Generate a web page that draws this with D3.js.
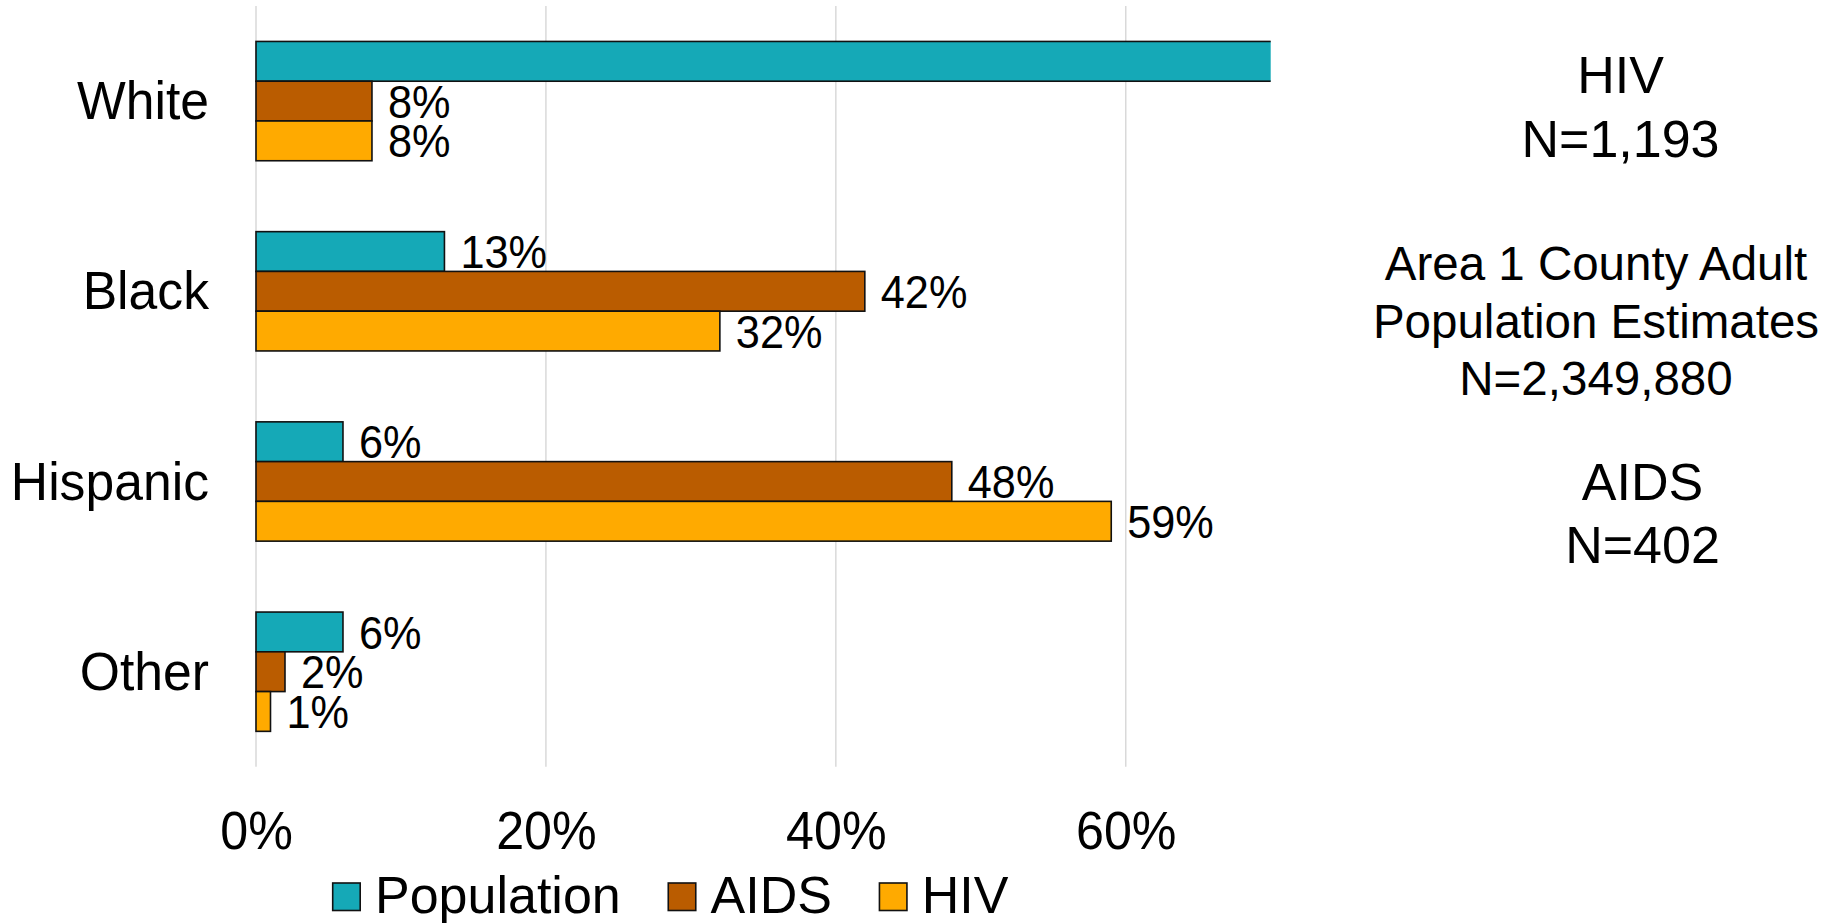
<!DOCTYPE html>
<html>
<head>
<meta charset="utf-8">
<script src="https://cdn.jsdelivr.net/npm/d3@7"></script>
<style>
  html, body { margin: 0; padding: 0; background: #fff; }
  svg { display: block; font-family: "Liberation Sans", Arial, sans-serif; }
</style>
</head>
<body>
<svg id="chart" width="1825" height="923"></svg>
<script>
// ---- data ----
const categories = ["White", "Black", "Hispanic", "Other"];
const seriesNames = ["Population", "AIDS", "HIV"];
const population = [75, 13, 6, 6];
const aids = [8, 42, 48, 2];
const hiv = [8, 32, 59, 1];
const tickValues = [0, 20, 40, 60];
const seriesColors = ["#15A9B7", "#BA5C00", "#FFAA00"];
const noteHIV = ["HIV", "N=1,193"];
const notePop = ["Area 1 County Adult", "Population Estimates", "N=2,349,880"];
const noteAIDS = ["AIDS", "N=402"];

const seriesValues = [population, aids, hiv];
const rows = categories.map((c, i) => ({
  cat: c,
  vals: seriesNames.map((s, j) => ({ series: s, value: seriesValues[j][i], color: seriesColors[j] }))
}));

function condense(sel, f) {
  sel.each(function () {
    const L = this.getComputedTextLength();
    d3.select(this).attr("textLength", L * f).attr("lengthAdjust", "spacingAndGlyphs");
  });
}

const svg = d3.select("#chart");

const x = d3.scaleLinear().domain([0, 70]).range([256, 1270.7]);
const y0 = d3.scaleBand().domain(categories).range([6, 766.8]).paddingInner(0.3728).paddingOuter(0.1864);
const y1 = d3.scaleBand().domain(seriesNames).range([0, y0.bandwidth()]);

// clip to plot area
svg.append("defs").append("clipPath").attr("id", "plotclip")
  .append("rect").attr("x", x(0) - 2).attr("y", 0).attr("width", x(70) - x(0) + 2).attr("height", 923);

// gridlines
svg.append("g").selectAll("line").data(tickValues).join("line")
  .attr("x1", d => x(d)).attr("x2", d => x(d))
  .attr("y1", y0.range()[0]).attr("y2", y0.range()[1])
  .attr("stroke", "#d9d9d9").attr("stroke-width", 1.5);

// x tick labels via axis
const xAxis = d3.axisBottom(x).tickValues(tickValues).tickFormat(d => d + "%").tickSize(0).tickPadding(0);
const gx = svg.append("g").attr("transform", "translate(0,849)").call(xAxis);
gx.select(".domain").remove();
gx.selectAll("text").attr("font-size", 54).attr("fill", "#000")
  .attr("font-family", "'Liberation Sans', Arial, sans-serif").attr("dy", 0).attr("y", 0);
condense(gx.selectAll("text"), 0.93);

// bars
const groups = svg.append("g").attr("clip-path", "url(#plotclip)")
  .selectAll("g").data(rows).join("g")
  .attr("transform", d => `translate(0,${y0(d.cat)})`);

groups.selectAll("rect").data(d => d.vals).join("rect")
  .attr("x", x(0))
  .attr("y", d => y1(d.series))
  .attr("width", d => x(Math.min(d.value, 70)) - x(0) + (d.value > 70 ? 3 : 0))
  .attr("height", y1.bandwidth())
  .attr("fill", d => d.color)
  .attr("stroke", "#111")
  .attr("stroke-width", 1.6);

// data labels
const lg = svg.append("g").selectAll("g").data(rows).join("g")
  .attr("transform", d => `translate(0,${y0(d.cat)})`);
const dl = lg.selectAll("text").data(d => d.vals.filter(v => v.value <= 70)).join("text")
  .attr("x", d => x(d.value) + 16)
  .attr("y", d => y1(d.series) + y1.bandwidth() / 2)
  .attr("dy", "0.36em")
  .attr("font-size", 46)
  .attr("fill", "#000")
  .text(d => d.value + "%");
condense(dl, 0.94);

// category labels
const cl = svg.append("g").selectAll("text").data(categories).join("text")
  .attr("x", 209)
  .attr("y", d => y0(d) + y0.bandwidth() / 2)
  .attr("dy", "0.34em")
  .attr("text-anchor", "end")
  .attr("font-size", 53)
  .attr("fill", "#000")
  .text(d => d);
condense(cl, 0.975);

// legend
const legend = svg.append("g");
let lx = 332.7;
seriesNames.forEach((s, i) => {
  legend.append("rect").attr("x", lx).attr("y", 883).attr("width", 27.5).attr("height", 27.5)
    .attr("fill", seriesColors[i]).attr("stroke", "#111").attr("stroke-width", 1.6);
  const t = legend.append("text").attr("x", lx + 42.3).attr("y", 913).attr("font-size", 52)
    .attr("fill", "#000").text(s);
  lx = lx + 42.3 + t.node().getComputedTextLength() + 47.5;
});

// notes on the right
const notes = [
  { lines: noteHIV, cx: 1620.5, y: 93.3, lh: 63.4, size: 52 },
  { lines: notePop, cx: 1596, y: 280, lh: 57.5, size: 47.5 },
  { lines: noteAIDS, cx: 1642.5, y: 500, lh: 63.3, size: 52 }
];
const ng = svg.append("g");
notes.forEach(n => {
  n.lines.forEach((line, k) => {
    ng.append("text").attr("x", n.cx).attr("y", n.y + k * n.lh)
      .attr("text-anchor", "middle").attr("font-size", n.size).attr("fill", "#000").text(line);
  });
});
</script>
</body>
</html>
